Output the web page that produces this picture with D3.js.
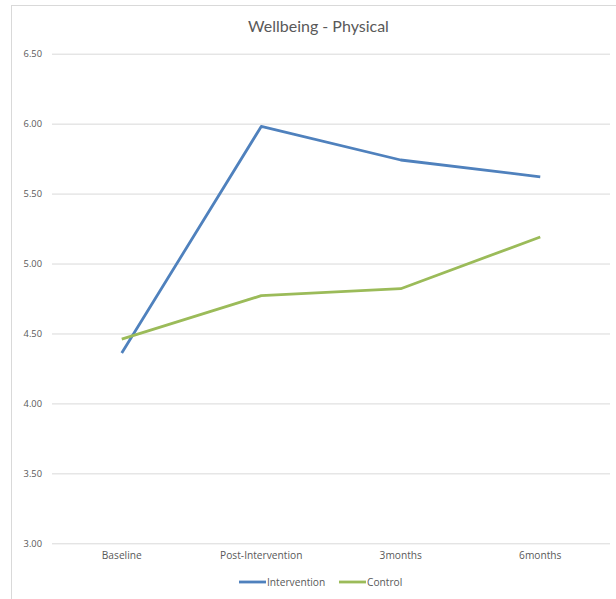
<!DOCTYPE html>
<html><head><meta charset="utf-8">
<script src="https://cdn.jsdelivr.net/npm/d3@7"></script>
<style>body{margin:0;background:#fff}svg{display:block}</style>
</head><body>
<script>
const categories = ["Baseline","Post-Intervention","3months","6months"];
const intervention = [4.36, 5.98, 5.74, 5.62];
const control = [4.46, 4.77, 4.82, 5.19];
const yTicks = [3.0,3.5,4.0,4.5,5.0,5.5,6.0,6.5];
const seriesNames = ["Intervention","Control"];
const colors = ["#4F81BD","#9BBB59"];

const W=616,H=599;
const F="'Open Sans',sans-serif";
const svg=d3.select("body").append("svg").attr("width",W).attr("height",H);
svg.append("rect").attr("x",11.5).attr("y",5.5).attr("width",W-8).attr("height",H+10)
  .attr("fill","#fff").attr("stroke","#d9d9d9");

const x=d3.scaleBand().domain(categories).range([52,610]);
const y=d3.scaleLinear().domain([3,6.5]).range([543.3,53.7]);

svg.append("text").attr("x",318.5).attr("y",32).attr("text-anchor","middle")
  .attr("font-size",16).attr("fill","#595959").style("font-family","Lato,sans-serif").text("Wellbeing - Physical");

const ya=svg.append("g").attr("transform","translate(52,0)")
  .call(d3.axisLeft(y).tickValues(yTicks).tickFormat(d3.format(".2f")).tickSize(-558).tickPadding(10));
ya.select(".domain").remove();
ya.selectAll("line").attr("stroke","#d9d9d9");
ya.selectAll("text").attr("font-size",9.3).attr("fill","#595959").style("font-family",F);

const xa=svg.append("g").attr("transform","translate(0,543.3)")
  .call(d3.axisBottom(x).tickSize(0).tickPadding(8));
xa.select(".domain").remove();
xa.selectAll("text").attr("font-size",10.2).attr("fill","#595959").style("font-family",F);

const line=d3.line().x((d,i)=>x(categories[i])+x.bandwidth()/2).y(d=>y(d));
[intervention,control].forEach((s,k)=>{
  svg.append("path").datum(s).attr("d",line).attr("fill","none")
    .attr("stroke",colors[k]).attr("stroke-width",2.8).attr("stroke-linejoin","round");
});

const lg=svg.append("g");
const lx=[239,339];
seriesNames.forEach((n,k)=>{
  lg.append("line").attr("x1",lx[k]).attr("x2",lx[k]+27).attr("y1",582).attr("y2",582)
    .attr("stroke",colors[k]).attr("stroke-width",2.8);
  lg.append("text").attr("x",lx[k]+28).attr("y",585.5).attr("font-size",10.2)
    .attr("fill","#595959").style("font-family",F).text(n);
});
</script>
</body></html>
